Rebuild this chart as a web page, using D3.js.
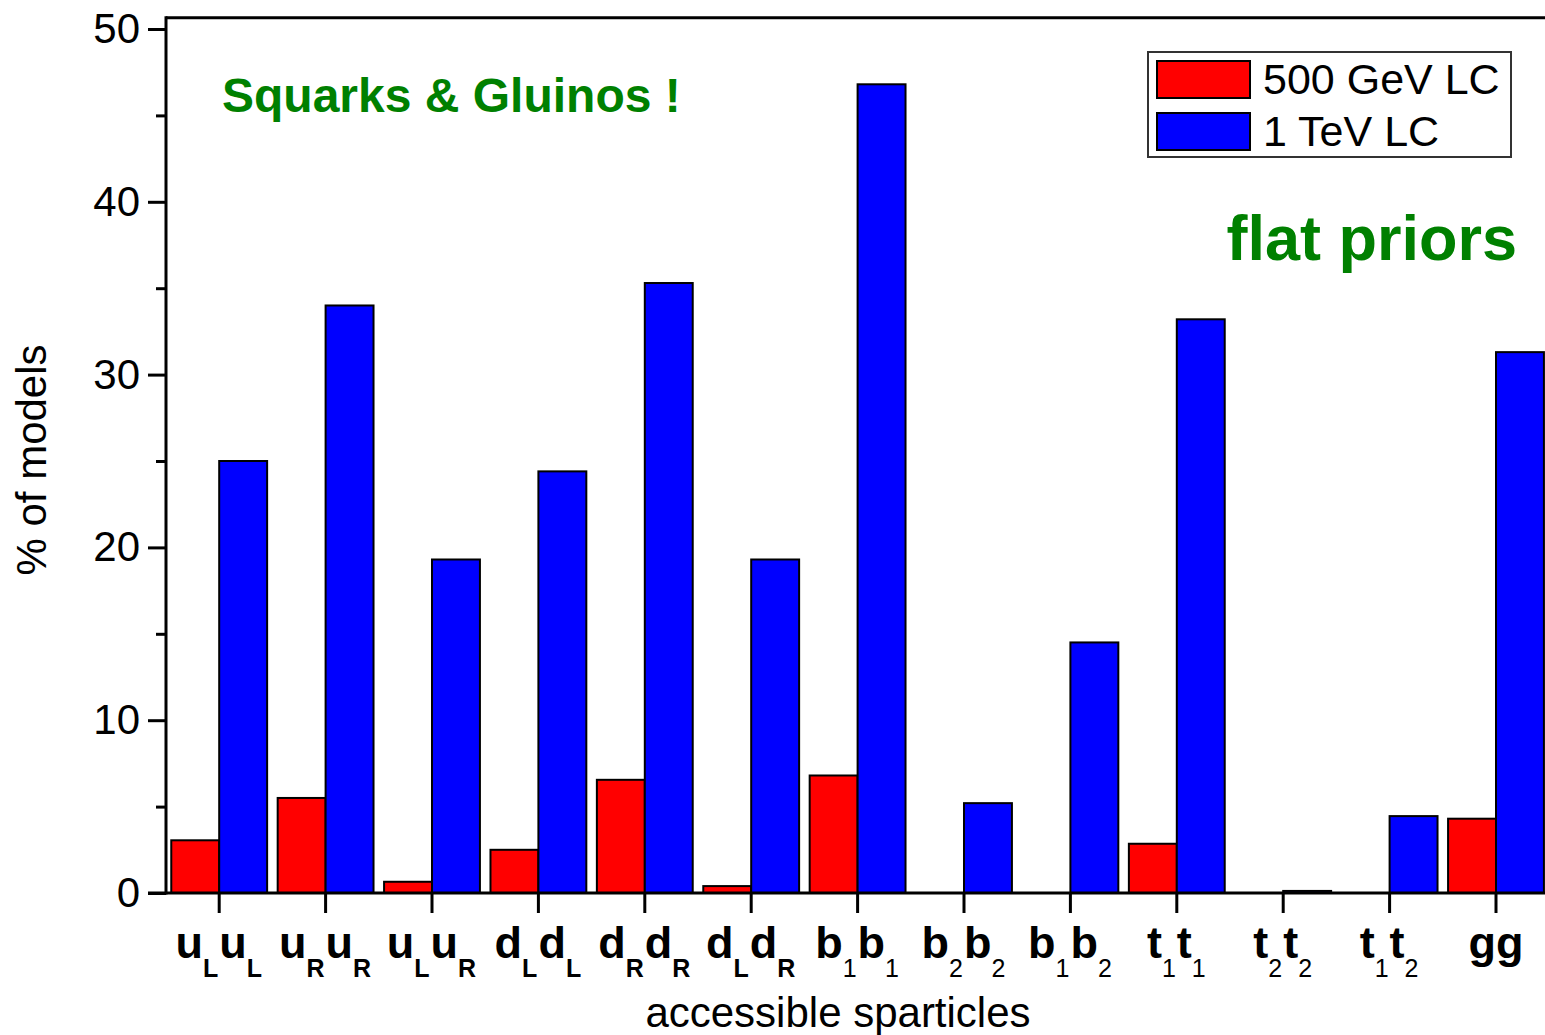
<!DOCTYPE html>
<html>
<head>
<meta charset="utf-8">
<script src="https://cdn.jsdelivr.net/npm/d3@7"></script>
<style>
  html, body { margin: 0; padding: 0; background: #fff; overflow: hidden; }
  svg { display: block; }
  text { font-family: "Liberation Sans", Arial, sans-serif; }
</style>
</head>
<body>
<svg id="chart" width="1545" height="1035"></svg>
<script>
// ---- data ----
const categories = ["uLuL","uRuR","uLuR","dLdL","dRdR","dLdR","b1b1","b2b2","b1b2","t1t1","t2t2","t1t2","gg"];
const labelBases = [["u","u"],["u","u"],["u","u"],["d","d"],["d","d"],["d","d"],["b","b"],["b","b"],["b","b"],["t","t"],["t","t"],["t","t"],["gg"]];
const labelSubs  = [["L","L"],["R","R"],["L","R"],["L","L"],["R","R"],["L","R"],["1","1"],["2","2"],["1","2"],["1","1"],["2","2"],["1","2"],[""]];
const seriesNames = ["500 GeV LC","1 TeV LC"];
const lc500  = [3.05, 5.5, 0.65, 2.5, 6.55, 0.4, 6.8, 0, 0, 2.85, 0, 0, 4.3];
const lc1000 = [25.0, 34.0, 19.3, 24.4, 35.3, 19.3, 46.8, 5.2, 14.5, 33.2, 0.12, 4.45, 31.3];
const yMajorTicks = [0,10,20,30,40,50];
const yMinorTicks = [5,15,25,35,45];
const seriesColors = ["#ff0000","#0000ff"];

// ---- scales ----
const svg = d3.select("#chart");
const x0 = 166, yBase = 893, yTop = 29;
const step = 106.4;
const x = d3.scaleBand().domain(categories).range([x0, x0 + step*categories.length]).padding(0);
const xs = d3.scaleBand().domain(seriesNames).range([0, x.bandwidth()]).paddingInner(0).paddingOuter(0.11);
const y = d3.scaleLinear().domain([0, 50]).range([yBase, yTop]);

// ---- bars ----
const data = categories.map((c,i)=>({cat:c, vals:[lc500[i], lc1000[i]]}));
const groups = svg.append("g").selectAll("g").data(data).join("g")
  .attr("transform", d => `translate(${x(d.cat)},0)`);
groups.selectAll("rect").data(d => d.vals.map((v,j)=>({v, s:seriesNames[j], j})))
  .join("rect")
  .filter(d => d.v > 0)
  .attr("x", d => xs(d.s))
  .attr("y", d => y(d.v))
  .attr("width", xs.bandwidth())
  .attr("height", d => yBase - y(d.v))
  .attr("fill", d => seriesColors[d.j])
  .attr("stroke", "#000")
  .attr("stroke-width", 2);

// ---- frame (top line) ----
svg.append("line").attr("x1", x0).attr("x2", 1545).attr("y1", y(50.65)).attr("y2", y(50.65))
  .attr("stroke", "#000").attr("stroke-width", 3);

// ---- y axis ----
const yAxis = svg.append("g").attr("transform", `translate(${x0},0)`);
yAxis.call(d3.axisLeft(y).tickValues(yMajorTicks).tickSize(18).tickPadding(8).tickSizeOuter(0));
yAxis.select(".domain").remove();
yAxis.selectAll(".tick line").attr("stroke-width", 3);
yAxis.selectAll(".tick text").attr("font-size", 42).attr("fill", "#000")
  .attr("font-family", "'Liberation Sans', Arial, sans-serif");
yAxis.append("line").attr("x1", 0).attr("x2", 0).attr("y1", y(50.65)-1.5).attr("y2", yBase+1.5)
  .attr("stroke", "#000").attr("stroke-width", 3);
const yMinor = svg.append("g").attr("transform", `translate(${x0},0)`);
yMinor.call(d3.axisLeft(y).tickValues(yMinorTicks).tickSize(10).tickFormat(""));
yMinor.select(".domain").remove();
yMinor.selectAll(".tick line").attr("stroke-width", 3);

// ---- x axis ----
const xAxis = svg.append("g").attr("transform", `translate(0,${yBase})`);
xAxis.call(d3.axisBottom(x).tickSize(20).tickSizeOuter(0).tickFormat(""));
xAxis.select(".domain").remove();
xAxis.selectAll(".tick line").attr("stroke-width", 3);
svg.append("line").attr("x1", 148).attr("x2", 1545).attr("y1", yBase).attr("y2", yBase)
  .attr("stroke", "#000").attr("stroke-width", 3);

// category labels with subscripts
xAxis.selectAll(".tick").each(function(d, i) {
  const t = d3.select(this).append("text")
    .attr("y", 65).attr("text-anchor", "middle").attr("fill", "#000");
  const bases = labelBases[i], subs = labelSubs[i];
  bases.forEach((b, k) => {
    t.append("tspan").attr("font-size", 45).attr("font-weight", "bold")
      .attr("dy", k === 0 ? 0 : -19).text(b);
    if (subs[k]) t.append("tspan").attr("font-size", 25)
      .attr("font-weight", /[0-9]/.test(subs[k]) ? "normal" : "bold")
      .attr("letter-spacing", 1)
      .attr("dy", 19).text(subs[k]);
  });
});

// axis titles
svg.append("text").attr("x", 838).attr("y", 1027).attr("text-anchor", "middle")
  .attr("font-size", 42).attr("fill", "#000").text("accessible sparticles");
svg.append("text").attr("transform", "translate(46,460) rotate(-90)").attr("text-anchor", "middle")
  .attr("font-size", 42).attr("fill", "#000").text("% of models");

// annotations
svg.append("text").attr("x", 222).attr("y", 112).attr("font-size", 48).attr("font-weight", "bold")
  .attr("fill", "#008000").text("Squarks & Gluinos !");
svg.append("text").attr("x", 1517).attr("y", 260).attr("text-anchor", "end").attr("font-size", 63)
  .attr("font-weight", "bold").attr("fill", "#008000").text("flat priors");

// legend
const lg = svg.append("g");
lg.append("rect").attr("x", 1148).attr("y", 52).attr("width", 363).attr("height", 105)
  .attr("fill", "#fff").attr("stroke", "#333").attr("stroke-width", 2);
seriesNames.forEach((n, i) => {
  lg.append("rect").attr("x", 1157).attr("y", 61 + i*52).attr("width", 93).attr("height", 37)
    .attr("fill", seriesColors[i]).attr("stroke", "#000").attr("stroke-width", 2);
  lg.append("text").attr("x", 1263).attr("y", 94 + i*52).attr("font-size", 43).attr("fill", "#000").text(n);
});
</script>
</body>
</html>
